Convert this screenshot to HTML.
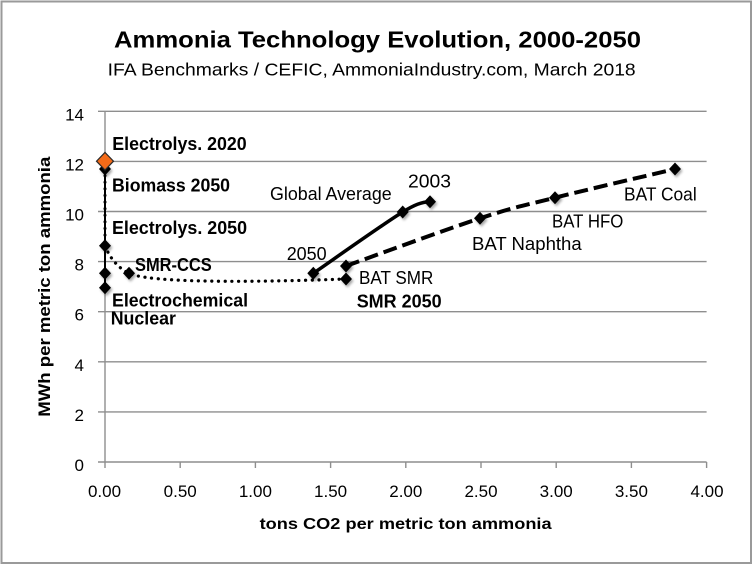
<!DOCTYPE html>
<html>
<head>
<meta charset="utf-8">
<style>
  html, body { margin: 0; padding: 0; background: #fff; }
  svg { display: block; }
  text { font-family: "Liberation Sans", "DejaVu Sans", sans-serif; fill: #000; }
  .b { font-weight: bold; }
</style>
</head>
<body>
<svg width="753" height="565" viewBox="0 0 753 565" xmlns="http://www.w3.org/2000/svg">
  <defs>
    <filter id="sh" x="-50%" y="-50%" width="200%" height="200%">
      <feDropShadow dx="1.5" dy="2" stdDeviation="1.2" flood-color="#000" flood-opacity="0.35"/>
    </filter>
  </defs>
  <rect x="0" y="0" width="753" height="565" fill="#fff"/>
  <!-- outer border -->
  <rect x="1.5" y="1.5" width="749.5" height="561.5" fill="none" stroke="#9a9a9a" stroke-width="2"/>

  <!-- Title -->
  <text class="b" x="114" y="47.7" font-size="23" textLength="527" lengthAdjust="spacingAndGlyphs">Ammonia Technology Evolution, 2000-2050</text>
  <text x="107.7" y="75.7" font-size="17.5" textLength="528" lengthAdjust="spacingAndGlyphs">IFA Benchmarks / CEFIC, AmmoniaIndustry.com, March 2018</text>

  <!-- gridlines -->
  <g stroke="#8e8e8e" stroke-width="1.4">
    <line x1="98" y1="111.3" x2="706.6" y2="111.3"/>
    <line x1="98" y1="161.4" x2="706.6" y2="161.4"/>
    <line x1="98" y1="211.5" x2="706.6" y2="211.5"/>
    <line x1="98" y1="261.6" x2="706.6" y2="261.6"/>
    <line x1="98" y1="311.7" x2="706.6" y2="311.7"/>
    <line x1="98" y1="361.8" x2="706.6" y2="361.8"/>
    <line x1="98" y1="411.9" x2="706.6" y2="411.9"/>
    <line x1="98" y1="462" x2="706.6" y2="462"/>
    <!-- y axis -->
    <line x1="105" y1="111.3" x2="105" y2="468"/>
    <!-- x ticks -->
    <line x1="180.2" y1="462" x2="180.2" y2="468"/>
    <line x1="255.4" y1="462" x2="255.4" y2="468"/>
    <line x1="330.6" y1="462" x2="330.6" y2="468"/>
    <line x1="405.8" y1="462" x2="405.8" y2="468"/>
    <line x1="481" y1="462" x2="481" y2="468"/>
    <line x1="556.2" y1="462" x2="556.2" y2="468"/>
    <line x1="631.4" y1="462" x2="631.4" y2="468"/>
    <line x1="706.6" y1="462" x2="706.6" y2="468"/>
  </g>

  <!-- y tick labels -->
  <g font-size="17" text-anchor="end">
    <text x="84" y="120.3">14</text>
    <text x="84" y="170.4">12</text>
    <text x="84" y="220.5">10</text>
    <text x="84" y="270.6">8</text>
    <text x="84" y="320.7">6</text>
    <text x="84" y="370.8">4</text>
    <text x="84" y="420.9">2</text>
    <text x="84" y="471">0</text>
  </g>

  <!-- x tick labels -->
  <g font-size="17" text-anchor="middle">
    <text x="104.5" y="497">0.00</text>
    <text x="180.2" y="497">0.50</text>
    <text x="255.4" y="497">1.00</text>
    <text x="330.6" y="497">1.50</text>
    <text x="405.8" y="497">2.00</text>
    <text x="481" y="497">2.50</text>
    <text x="556.2" y="497">3.00</text>
    <text x="631.4" y="497">3.50</text>
    <text x="707" y="497">4.00</text>
  </g>

  <!-- axis titles -->
  <text class="b" x="259.6" y="529" font-size="16" textLength="292" lengthAdjust="spacingAndGlyphs">tons CO2 per metric ton ammonia</text>
  <text class="b" transform="translate(50,416.7) rotate(-90)" x="0" y="0" font-size="16.5" textLength="260" lengthAdjust="spacingAndGlyphs">MWh per metric ton ammonia</text>

  <!-- series lines -->
  <!-- vertical solid at x=0 -->
  <line x1="105" y1="161.4" x2="105" y2="289" stroke="#000" stroke-width="2"/>
  <!-- dotted series -->
  <path d="M105,169 L105,246" fill="none" stroke="#000" stroke-width="3" stroke-linecap="round" stroke-dasharray="0.1 6.5"/>
  <path d="M105,246 C110,258 118,268 129,273.3 C150,283 250,282.5 346,279" fill="none" stroke="#000" stroke-width="3.2" stroke-linecap="round" stroke-dasharray="0.1 6.6"/>
  <!-- solid global average -->
  <path d="M313.3,273.3 C328.2,263.1 383.3,223.9 402.7,212 C414,205 422,201.7 430,201.7" fill="none" stroke="#000" stroke-width="3.5"/>
  <!-- dashed BAT -->
  <path d="M346,266 C368.3,258 445.2,229.7 480,218.3 C514.8,206.9 522.5,205.9 555,197.7 C587.5,189.5 655,173.8 675,169" fill="none" stroke="#000" stroke-width="4" stroke-dasharray="14 6"/>

  <!-- markers -->
  <g fill="#000" filter="url(#sh)">
    <path d="M105,162.5 l6,6.5 l-6,6.5 l-6,-6.5 z"/>
    <path d="M105,239.2 l6,6.5 l-6,6.5 l-6,-6.5 z"/>
    <path d="M105,266.8 l6,6.5 l-6,6.5 l-6,-6.5 z"/>
    <path d="M105,281.2 l6,6.5 l-6,6.5 l-6,-6.5 z"/>
    <path d="M129,266.8 l6,6.5 l-6,6.5 l-6,-6.5 z"/>
    <path d="M313.3,266.8 l6,6.5 l-6,6.5 l-6,-6.5 z"/>
    <path d="M402.7,205.5 l6,6.5 l-6,6.5 l-6,-6.5 z"/>
    <path d="M430,195.2 l6,6.5 l-6,6.5 l-6,-6.5 z"/>
    <path d="M346,259.5 l6,6.5 l-6,6.5 l-6,-6.5 z"/>
    <path d="M346,272.5 l6,6.5 l-6,6.5 l-6,-6.5 z"/>
    <path d="M480,211.8 l6,6.5 l-6,6.5 l-6,-6.5 z"/>
    <path d="M555,191.2 l6,6.5 l-6,6.5 l-6,-6.5 z"/>
    <path d="M675,162.5 l6,6.5 l-6,6.5 l-6,-6.5 z"/>
  </g>
  <path d="M105,152.4 l8.5,8.8 l-8.5,8.8 l-8.5,-8.8 z" fill="#f36a18" stroke="#2a2a2a" stroke-width="1.2"/>

  <!-- data labels -->
  <g class="b" font-size="18">
    <text class="b" x="112.3" y="150" textLength="134.4" lengthAdjust="spacingAndGlyphs">Electrolys. 2020</text>
    <text class="b" x="112" y="191.7" textLength="118" lengthAdjust="spacingAndGlyphs">Biomass 2050</text>
    <text class="b" x="112" y="234" textLength="135" lengthAdjust="spacingAndGlyphs">Electrolys. 2050</text>
    <text class="b" x="135" y="271" textLength="76.7" lengthAdjust="spacingAndGlyphs">SMR-CCS</text>
    <text class="b" x="112" y="306.7" textLength="136" lengthAdjust="spacingAndGlyphs">Electrochemical</text>
    <text class="b" x="110.7" y="324.3" textLength="65.3" lengthAdjust="spacingAndGlyphs">Nuclear</text>
    <text class="b" x="356.7" y="307.3" textLength="85" lengthAdjust="spacingAndGlyphs">SMR 2050</text>
  </g>
  <g font-size="18">
    <text x="270" y="200" textLength="121.7" lengthAdjust="spacingAndGlyphs">Global Average</text>
    <text x="408" y="187.7" textLength="43" lengthAdjust="spacingAndGlyphs">2003</text>
    <text x="286.7" y="260" textLength="40" lengthAdjust="spacingAndGlyphs">2050</text>
    <text x="359" y="284" textLength="74.3" lengthAdjust="spacingAndGlyphs">BAT SMR</text>
    <text x="472" y="250" textLength="109.7" lengthAdjust="spacingAndGlyphs">BAT Naphtha</text>
    <text x="552" y="227.7" textLength="71.3" lengthAdjust="spacingAndGlyphs">BAT HFO</text>
    <text x="624" y="200.7" textLength="72.7" lengthAdjust="spacingAndGlyphs">BAT Coal</text>
  </g>
</svg>
</body>
</html>
